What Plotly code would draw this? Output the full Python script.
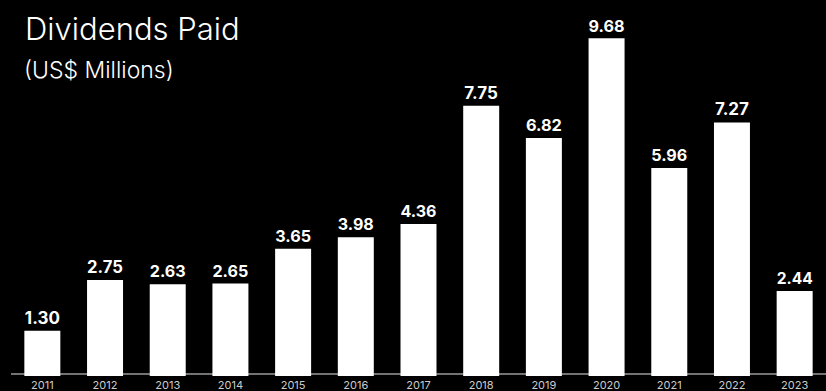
import plotly.graph_objects as go

years = ["2011", "2012", "2013", "2014", "2015", "2016", "2017",
         "2018", "2019", "2020", "2021", "2022", "2023"]
dividends = [1.30, 2.75, 2.63, 2.65, 3.65, 3.98, 4.36,
             7.75, 6.82, 9.68, 5.96, 7.27, 2.44]
title_text = "Dividends Paid"
subtitle_text = "(US$ Millions)"

FONT = "Inter"

fig = go.Figure(
    go.Bar(
        x=years,
        y=dividends,
        marker=dict(color="white", line=dict(width=0)),
        text=[f"{v:.2f}" for v in dividends],
        textposition="outside",
        textfont=dict(family=FONT, size=17, color="white", weight="bold"),
        cliponaxis=False,
    )
)

# thin grey baseline sitting just above the bar bottoms
fig.add_shape(type="line", xref="paper", yref="y", x0=0, x1=1, y0=0.06, y1=0.06,
              line=dict(color="#9a9a9a", width=1.5), layer="below")

fig.add_annotation(text=title_text, xref="paper", yref="paper", x=0, y=1,
                   xanchor="left", yanchor="top", showarrow=False,
                   xshift=12, yshift=-8,
                   font=dict(family=FONT, size=31, color="white", weight=300))
fig.add_annotation(text=subtitle_text, xref="paper", yref="paper", x=0, y=1,
                   xanchor="left", yanchor="top", showarrow=False,
                   xshift=11, yshift=-54,
                   font=dict(family=FONT, size=23, color="white", weight=300))

fig.update_layout(
    width=826, height=391,
    margin=dict(l=11, r=0, t=0, b=15),
    paper_bgcolor="black", plot_bgcolor="black",
    bargap=0.426,
    showlegend=False,
    xaxis=dict(showgrid=False, showline=False, ticks="", automargin=False,
               ticklabelstandoff=1,
               tickfont=dict(family=FONT, size=11, color="#cccccc")),
    yaxis=dict(visible=False, range=[0, 10.78]),
)

fig.write_html("out.html")
